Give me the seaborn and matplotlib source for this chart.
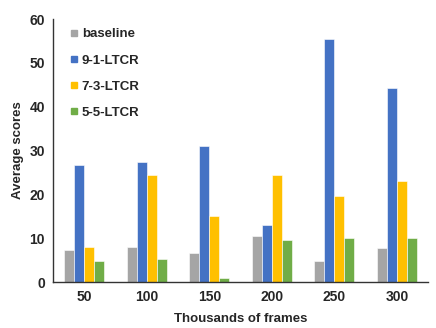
import pandas as pd
import numpy as np
import seaborn as sns
import matplotlib.pyplot as plt
from matplotlib.lines import Line2D

frames = ['50', '100', '150', '200', '250', '300']
baseline = [7.3, 8.0, 6.6, 10.4, 4.9, 7.8]
ltcr_91 = [26.6, 27.5, 31.0, 13.0, 55.5, 44.3]
ltcr_73 = [8.0, 24.5, 15.0, 24.4, 19.6, 23.1]
ltcr_55 = [4.9, 5.3, 0.9, 9.5, 10.0, 10.0]

series = ['baseline', '9-1-LTCR', '7-3-LTCR', '5-5-LTCR']
colors = ['#A5A5A5', '#4472C4', '#FFC000', '#70AD47']

df = pd.DataFrame({
    'frames': frames * 4,
    'score': baseline + ltcr_91 + ltcr_73 + ltcr_55,
    'method': np.repeat(series, len(frames)),
})

sns.set_style('white')
plt.rcParams['font.family'] = ['Liberation Sans', 'DejaVu Sans']

fig = plt.figure(figsize=(4.36, 3.28), dpi=100)
ax = fig.add_axes([0.122, 0.14, 0.86, 0.802])
sns.barplot(data=df, x='frames', y='score', hue='method', palette=colors,
            width=0.64, saturation=1, ax=ax, edgecolor='white', linewidth=0.4)

ax.set_ylim(0, 60)
ax.set_yticks(range(0, 61, 10))
ax.set_xlim(-0.5, 5.5)
ax.set_xlabel('Thousands of frames', fontsize=9.5, fontweight='bold', labelpad=6)
ax.set_ylabel('Average scores', fontsize=9.5, fontweight='bold')
ax.tick_params(axis='both', length=0, labelsize=10, pad=6)
for lab in ax.get_xticklabels() + ax.get_yticklabels():
    lab.set_fontweight('bold')
sns.despine(ax=ax)
for s in ['left', 'bottom']:
    ax.spines[s].set_color('#333333')
    ax.spines[s].set_linewidth(1.0)

handles = [Line2D([], [], marker='s', linestyle='', color=c, markersize=5) for c in colors]
ax.legend(handles, series, loc='upper left', bbox_to_anchor=(0.02, 1.0), frameon=False,
          prop={'weight': 'bold', 'size': 9.5}, handlelength=0.6, handletextpad=0.3,
          labelspacing=1.05, borderaxespad=0.3)

fig.savefig('out.png', dpi=100)
